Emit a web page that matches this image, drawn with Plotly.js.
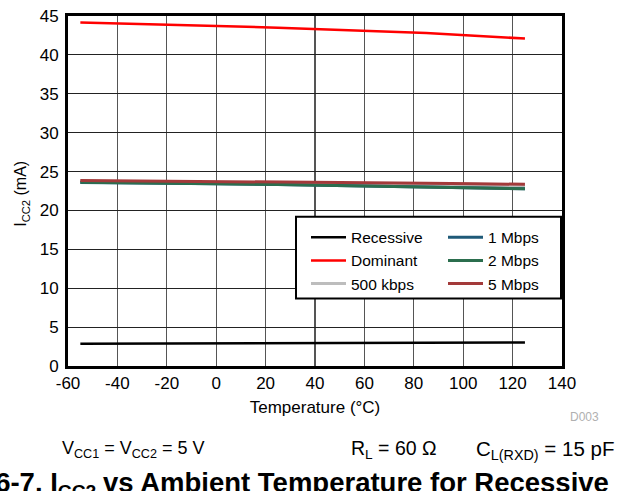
<!DOCTYPE html>
<html>
<head>
<meta charset="utf-8">
<script src="https://cdn.plot.ly/plotly-3.0.1.min.js"></script>
<style>
html,body{margin:0;padding:0;background:#fff;}
#chart{width:617px;height:491px;}
</style>
</head>
<body>
<div id="chart"></div>
<script>
// Temperature points (°C)
const temperature = [-55, -40, 0, 25, 85, 105, 125];
// I_CC2 (mA) per mode
const recessive = [2.86, 2.88, 2.92, 2.95, 2.99, 3.01, 3.02];
const dominant  = [44.17, 44.05, 43.75, 43.5, 42.8, 42.45, 42.1];
const kbps500   = [23.75, 23.72, 23.6, 23.5, 23.3, 23.2, 23.1];
const mbps1     = [23.6, 23.57, 23.42, 23.32, 23.03, 22.9, 22.78];
const mbps2     = [23.62, 23.59, 23.44, 23.34, 23.05, 22.92, 22.8];
const mbps5     = [23.85, 23.82, 23.72, 23.65, 23.5, 23.43, 23.36];

const xTicks = [-60, -40, -20, 0, 20, 40, 60, 80, 100, 120, 140];
const yTicks = [0, 5, 10, 15, 20, 25, 30, 35, 40, 45];

const FONT = 'Liberation Sans, Arial, Helvetica, sans-serif';

function tr(name, y, color, width, legend) {
  return {x: temperature, y: y, name: name, type: 'scatter', mode: 'lines',
    line: {color: color, width: width}, legend: legend};
}

const traces = [
  tr('Recessive', recessive, '#000000', 2.5, 'legend'),
  tr('Dominant', dominant, '#ff0000', 2.5, 'legend'),
  tr('500 kbps', kbps500, '#bdbdbd', 3, 'legend'),
  tr('1 Mbps', mbps1, '#1f5a78', 3, 'legend2'),
  tr('2 Mbps', mbps2, '#2b6e4e', 3, 'legend2'),
  tr('5 Mbps', mbps5, '#a33a3a', 3, 'legend2')
];

const W = 617, H = 491;
const L = 68, R = 55, T = 16, B = 124.5;
const pw = W - L - R, ph = H - T - B;
function px(x) { return (x - L) / pw; }
function py(y) { return (H - B - y) / ph; }

const legendFont = {size: 15.5, family: FONT};

const layout = {
  width: W, height: H,
  margin: {l: L, r: R, t: T, b: B, pad: 0},
  paper_bgcolor: '#ffffff', plot_bgcolor: '#ffffff',
  font: {family: FONT, size: 17, color: '#000'},
  showlegend: true,
  xaxis: {
    range: [-60, 140], tickvals: xTicks, ticktext: xTicks.map(String),
    showgrid: true, gridcolor: '#555', gridwidth: 1.2,
    zeroline: false, showline: true, linecolor: '#000', linewidth: 3, mirror: true,
    ticks: '', tickfont: {size: 17, family: FONT}, fixedrange: true,
    title: {text: 'Temperature (°C)', font: {size: 17, family: FONT}, standoff: 9}
  },
  yaxis: {
    range: [0, 45], tickvals: yTicks, ticktext: yTicks.map(String),
    showgrid: true, gridcolor: '#222', gridwidth: 1,
    zeroline: false, showline: true, linecolor: '#000', linewidth: 3, mirror: true,
    ticks: '', ticklabelstandoff: 3, tickfont: {size: 17, family: FONT}, fixedrange: true
  },
  legend: {
    x: px(306), y: py(221), xanchor: 'left', yanchor: 'top', xref: 'paper', yref: 'paper',
    bgcolor: 'rgba(0,0,0,0)', borderwidth: 0, itemwidth: 35, tracegroupgap: 0,
    font: legendFont
  },
  legend2: {
    x: px(443), y: py(221), xanchor: 'left', yanchor: 'top', xref: 'paper', yref: 'paper',
    bgcolor: 'rgba(0,0,0,0)', borderwidth: 0, itemwidth: 35, tracegroupgap: 0,
    font: legendFont
  },
  shapes: [{
    type: 'rect', xref: 'paper', yref: 'paper', layer: 'above',
    x0: px(296), x1: px(561), y0: py(299), y1: py(217),
    line: {color: '#000', width: 2}, fillcolor: '#ffffff'
  }],
  annotations: [
    {text: 'I<sub>CC2</sub> (mA)', textangle: -90, xref: 'paper', yref: 'paper',
     x: px(22), y: py(194), xanchor: 'center', yanchor: 'middle', showarrow: false,
     font: {size: 16, family: FONT}},
    {text: 'D003', xref: 'paper', yref: 'paper', x: px(584), y: py(418),
     xanchor: 'center', yanchor: 'middle', showarrow: false,
     font: {size: 12, family: FONT, color: '#b0b0b0'}},
    {text: 'V<sub>CC1</sub> = V<sub>CC2</sub> = 5 V', xref: 'paper', yref: 'paper',
     x: px(60), y: py(437), xanchor: 'left', yanchor: 'top', showarrow: false,
     font: {size: 18, family: FONT}},
    {text: 'R<sub>L</sub> = 60 Ω', xref: 'paper', yref: 'paper',
     x: px(349), y: py(436), xanchor: 'left', yanchor: 'top', showarrow: false,
     font: {size: 19.5, family: FONT}},
    {text: 'C<sub>L(RXD)</sub> = 15 pF', xref: 'paper', yref: 'paper',
     x: px(616), y: py(436), xanchor: 'right', yanchor: 'top', showarrow: false,
     font: {size: 20.5, family: FONT}},
    {text: '<b>图 6-7. I<sub>CC2</sub></b>', xref: 'paper', yref: 'paper',
     x: px(98), y: py(466), xanchor: 'right', yanchor: 'top', showarrow: false,
     font: {size: 27.5, family: FONT + ', Noto Sans CJK SC'}},
    {text: '<b>vs Ambient Temperature for Recessive</b>', xref: 'paper', yref: 'paper',
     x: px(101), y: py(466), xanchor: 'left', yanchor: 'top', showarrow: false,
     font: {size: 27.5, family: FONT}}
  ]
};

Plotly.newPlot('chart', traces, layout, {displayModeBar: false, staticPlot: true});
</script>
</body>
</html>
